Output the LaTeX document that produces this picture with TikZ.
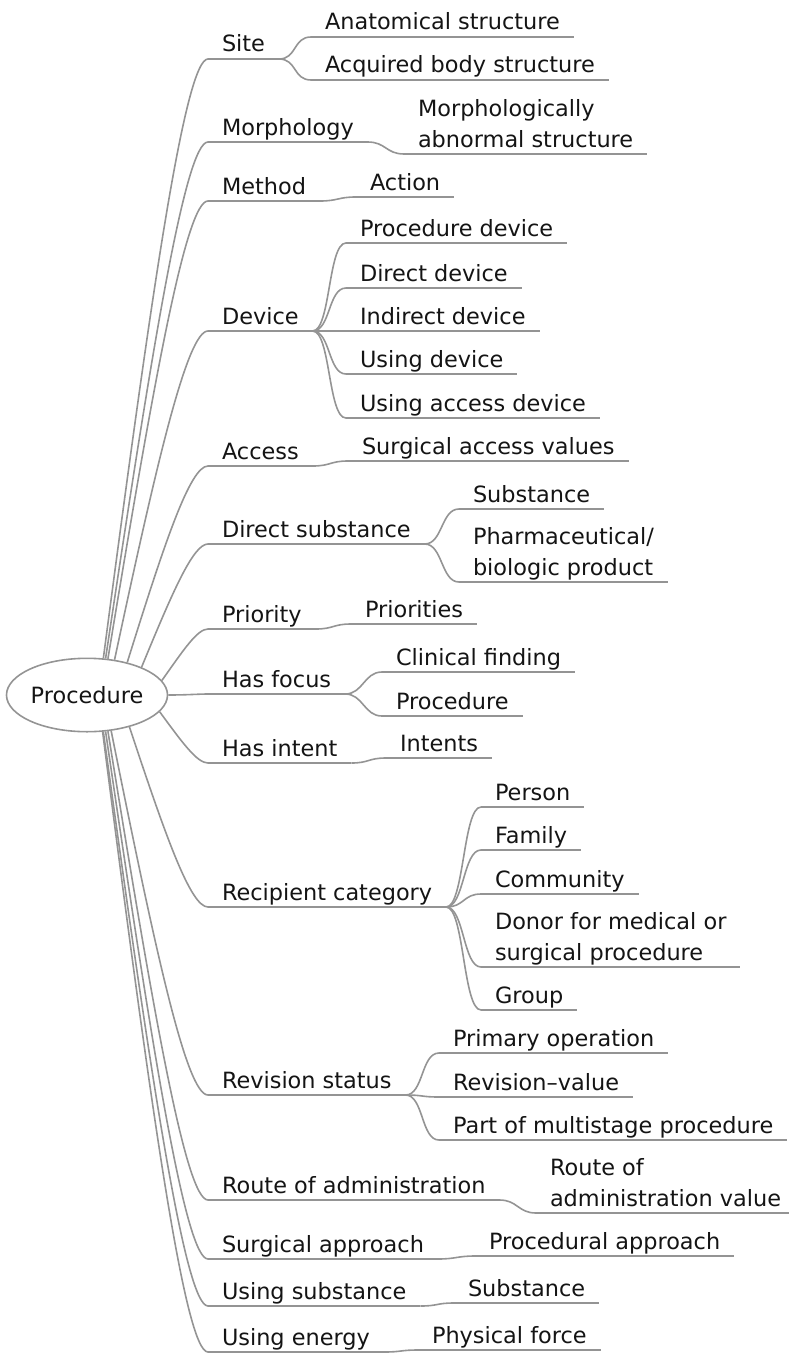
\documentclass[tikz,border=0pt]{standalone}
\usepackage{fontspec}
\setmainfont{DejaVu Sans}
\usetikzlibrary{shapes.geometric}
\definecolor{linegray}{RGB}{148,148,148}
\definecolor{textblack}{RGB}{20,20,20}
\begin{document}
\fontsize{22.4}{31}\selectfont
\begin{tikzpicture}[x=1pt,y=-1pt,
  conn/.style={draw=linegray, line width=1.6pt},
  topic/.style={anchor=south west, inner xsep=14pt, inner ysep=0pt, outer sep=0pt,
    text depth=7pt, align=left, text=textblack,
    append after command={(\tikzlastnode.south west) edge[conn] (\tikzlastnode.south east)}},
  rootnode/.style={ellipse, draw=linegray, line width=1.6pt, minimum width=161pt,
    minimum height=73.4pt, inner sep=0pt, text=textblack},
  branch/.style={conn},
]
\useasboundingbox (0,0) rectangle (789,1354);

% central concept
\node[rootnode] (root) at (87,695) {Procedure};

% attributes
\node[topic] (site)    at (208,59)   {Site};
\node[topic] (morph)   at (208,142)  {Morphology};
\node[topic] (method)  at (208,201)  {Method};
\node[topic] (device)  at (208,331)  {Device};
\node[topic] (access)  at (208,466)  {Access};
\node[topic] (dsubst)  at (208,544)  {Direct substance};
\node[topic] (prio)    at (208,629)  {Priority};
\node[topic] (focus)   at (208,694)  {Has focus};
\node[topic] (intent)  at (208,763)  {Has intent};
\node[topic] (recip)   at (208,907)  {Recipient category};
\node[topic] (revis)   at (208,1095) {Revision status};
\node[topic] (route)   at (208,1200) {Route of administration};
\node[topic] (surgapp) at (208,1259) {Surgical approach};
\node[topic] (usubst)  at (208,1306) {Using substance};
\node[topic] (uenergy) at (208,1352) {Using energy};

% value ranges
\node[topic] (anat)    at (311,37)   {Anatomical structure};
\node[topic] (acq)     at (311,80)   {Acquired body structure};
\node[topic] (morphab) at (404,154)  {Morphologically\\abnormal structure};
\node[topic] (action)  at (356,197)  {Action};
\node[topic] (pdev)    at (346,243)  {Procedure device};
\node[topic] (ddev)    at (346,288)  {Direct device};
\node[topic] (idev)    at (346,331)  {Indirect device};
\node[topic] (udev)    at (346,374)  {Using device};
\node[topic] (uadev)   at (346,418)  {Using access device};
\node[topic] (sav)     at (348,461)  {Surgical access values};
\node[topic] (subst)   at (459,509)  {Substance};
\node[topic] (pharm)   at (459,582)  {Pharmaceutical/\\biologic product};
\node[topic] (prios)   at (351,624)  {Priorities};
\node[topic] (clin)    at (382,672)  {Clinical finding};
\node[topic] (proc)    at (382,716)  {Procedure};
\node[topic] (intents) at (386,758)  {Intents};
\node[topic] (person)  at (481,807)  {Person};
\node[topic] (family)  at (481,850)  {Family};
\node[topic] (commun)  at (481,894)  {Community};
\node[topic] (donor)   at (481,967)  {Donor for medical or\\surgical procedure};
\node[topic] (group)   at (481,1010) {Group};
\node[topic] (primop)  at (439,1053) {Primary operation};
\node[topic] (revval)  at (439,1097) {Revision–value};
\node[topic] (multi)   at (439,1140) {Part of multistage procedure};
\node[topic] (routev)  at (536,1213) {Route of\\administration value};
\node[topic] (procapp) at (475,1256) {Procedural approach};
\node[topic] (subst2)  at (454,1303) {Substance};
\node[topic] (physf)   at (418,1350) {Physical force};

% connectors from the central concept
\draw[branch] (root.66)   .. controls +(47.3,-360)  and +(-23.1,0) .. (site.south west);
\draw[branch] (root.63.3) .. controls +(46.4,-310.3) and +(-22.7,0) .. (morph.south west);
\draw[branch] (root.60.6) .. controls +(45.5,-275.1) and +(-22.2,0) .. (method.south west);
\draw[branch] (root.52)   .. controls +(42.3,-197.7) and +(-20.7,0) .. (device.south west);
\draw[branch] (root.39.4) .. controls +(36.9,-118.2) and +(-18,0)   .. (access.south west);
\draw[branch] (root.27.4) .. controls +(30.6,-74.1)  and +(-15,0)   .. (dsubst.south west);
\draw[branch] (root.11.6) .. controls +(21.6,-30.6)  and +(-10.6,0) .. (prio.south west);
\draw[branch] (root.0)    .. controls +(18.5,0)      and +(-9,0)    .. (focus.south west);
\draw[branch] (root.-13.4) .. controls +(22.5,30.7)  and +(-11,0)   .. (intent.south west);
\draw[branch] (root.-37.5) .. controls +(36,108.3)   and +(-17.6,0) .. (recip.south west);
\draw[branch] (root.-56.8) .. controls +(44.1,218.9) and +(-21.6,0) .. (revis.south west);
\draw[branch] (root.-60.6) .. controls +(45.5,281.7) and +(-22.2,0) .. (route.south west);
\draw[branch] (root.-63.3) .. controls +(46.4,316.9) and +(-22.7,0) .. (surgapp.south west);
\draw[branch] (root.-66)   .. controls +(47.3,345)   and +(-23.1,0) .. (usubst.south west);
\draw[branch] (root.-67.4) .. controls +(47.7,372.5) and +(-23.3,0) .. (uenergy.south west);

% connectors from attributes to their values
\foreach \p/\c in {site/anat, site/acq, morph/morphab, method/action,
    device/pdev, device/ddev, device/idev, device/udev, device/uadev,
    access/sav, dsubst/subst, dsubst/pharm, prio/prios, focus/clin, focus/proc,
    intent/intents, recip/person, recip/family, recip/commun, recip/donor, recip/group,
    revis/primop, revis/revval, revis/multi, route/routev, surgapp/procapp,
    usubst/subst2, uenergy/physf}
  \draw[conn] (\p.south east) .. controls +(18,0) and +(-18,0) .. (\c.south west);
\end{tikzpicture}
\end{document}
